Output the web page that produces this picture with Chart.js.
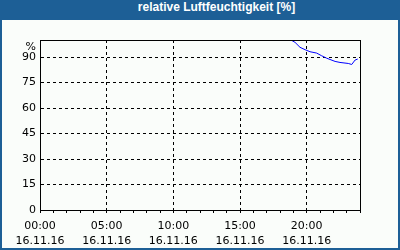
<!DOCTYPE html>
<html>
<head>
<meta charset="utf-8">
<script src="https://cdn.jsdelivr.net/npm/chart.js@4/dist/chart.umd.min.js"></script>
<style>
  html, body { margin: 0; padding: 0; background: #fff; }
  #frame {
    position: relative;
    width: 396px; height: 248px;
    border: 2px solid #1d5f96; border-top: none;
    background: #fafdfa;
  }
  #title {
    height: 20px; line-height: 21px;
    margin: 0 -2px;
    padding-left: 33px;
    background: #1d5f96; color: #fff;
    font: bold 12px "Liberation Sans", Arial, sans-serif;
    text-align: center;
  }
  #wrap { position: absolute; left: -2px; top: 0; width: 400px; height: 250px; }
</style>
</head>
<body>
<div id="frame">
  <div id="title">relative Luftfeuchtigkeit [%]</div>
  <div id="wrap"><canvas id="chart" width="400" height="250"></canvas></div>
</div>
<script>
// hours since 00:00 on 16.11.16
const hours = [18.83, 19.13, 19.5, 19.88, 20.25, 20.75, 21.13, 21.5, 22.13, 22.5, 23.12, 23.38, 23.63, 23.83];
const humidity = [100, 98.6, 95.7, 94.3, 93.1, 92.3, 90.7, 89.3, 87.4, 86.8, 86.2, 85.6, 88.2, 88.8];
const dateLabel = '16.11.16';
const yTicks = [0, 15, 30, 45, 60, 75, 90];

const points = hours.map((h, i) => ({ x: h, y: humidity[i] }));
const pad = n => String(n).padStart(2, '0');

const framePlugin = {
  id: 'frame',
  afterDraw(chart) {
    const { ctx, chartArea: a } = chart;
    ctx.save();
    ctx.strokeStyle = '#000';
    ctx.lineWidth = 1;
    ctx.strokeRect(a.left + 0.5, a.top + 0.5, a.right - a.left, a.bottom - a.top);
    ctx.fillStyle = '#000';
    ctx.font = '11px "DejaVu Sans", sans-serif';
    ctx.textAlign = 'right';
    ctx.textBaseline = 'middle';
    ctx.fillText('%', a.left - 4, a.top + 7);
    ctx.restore();
  }
};

new Chart(document.getElementById('chart'), {
  type: 'line',
  data: {
    datasets: [{
      data: points,
      borderColor: '#0000ff',
      borderWidth: 1,
      pointRadius: 0,
      tension: 0,
      fill: false
    }]
  },
  options: {
    responsive: false,
    animation: false,
    layout: { padding: { left: 0, top: 40, right: 40, bottom: 0 } },
    plugins: { legend: { display: false }, tooltip: { enabled: false }, title: { display: false } },
    scales: {
      x: {
        type: 'linear',
        min: 0,
        max: 24,
        afterFit: s => { s.height = 40; },
        ticks: {
          stepSize: 1,
          autoSkip: false,
          maxRotation: 0,
          padding: 6,
          color: '#000',
          font: { family: '"DejaVu Sans", sans-serif', size: 11, lineHeight: 1.35 },
          callback: v => (v % 5 === 0 ? [pad(v) + ':00', dateLabel] : '')
        },
        grid: {
          color: c => (c.tick && c.tick.value % 5 === 0 && c.tick.value > 0 && c.tick.value < 24) ? '#000' : 'rgba(0,0,0,0)',
          tickColor: '#000',
          tickLength: 3
        },
        border: { display: true, color: '#000', dash: [3, 3] }
      },
      y: {
        min: 0,
        max: 100,
        afterFit: s => { s.width = 40; },
        afterBuildTicks: s => { s.ticks = yTicks.map(v => ({ value: v })); },
        ticks: {
          padding: 4,
          color: '#000',
          font: { family: '"DejaVu Sans", sans-serif', size: 11 }
        },
        grid: {
          color: c => (c.tick && c.tick.value > 0) ? '#000' : 'rgba(0,0,0,0)',
          drawTicks: false
        },
        border: { display: true, color: '#000', dash: [3, 3] }
      }
    }
  },
  plugins: [framePlugin]
});
</script>
</body>
</html>
